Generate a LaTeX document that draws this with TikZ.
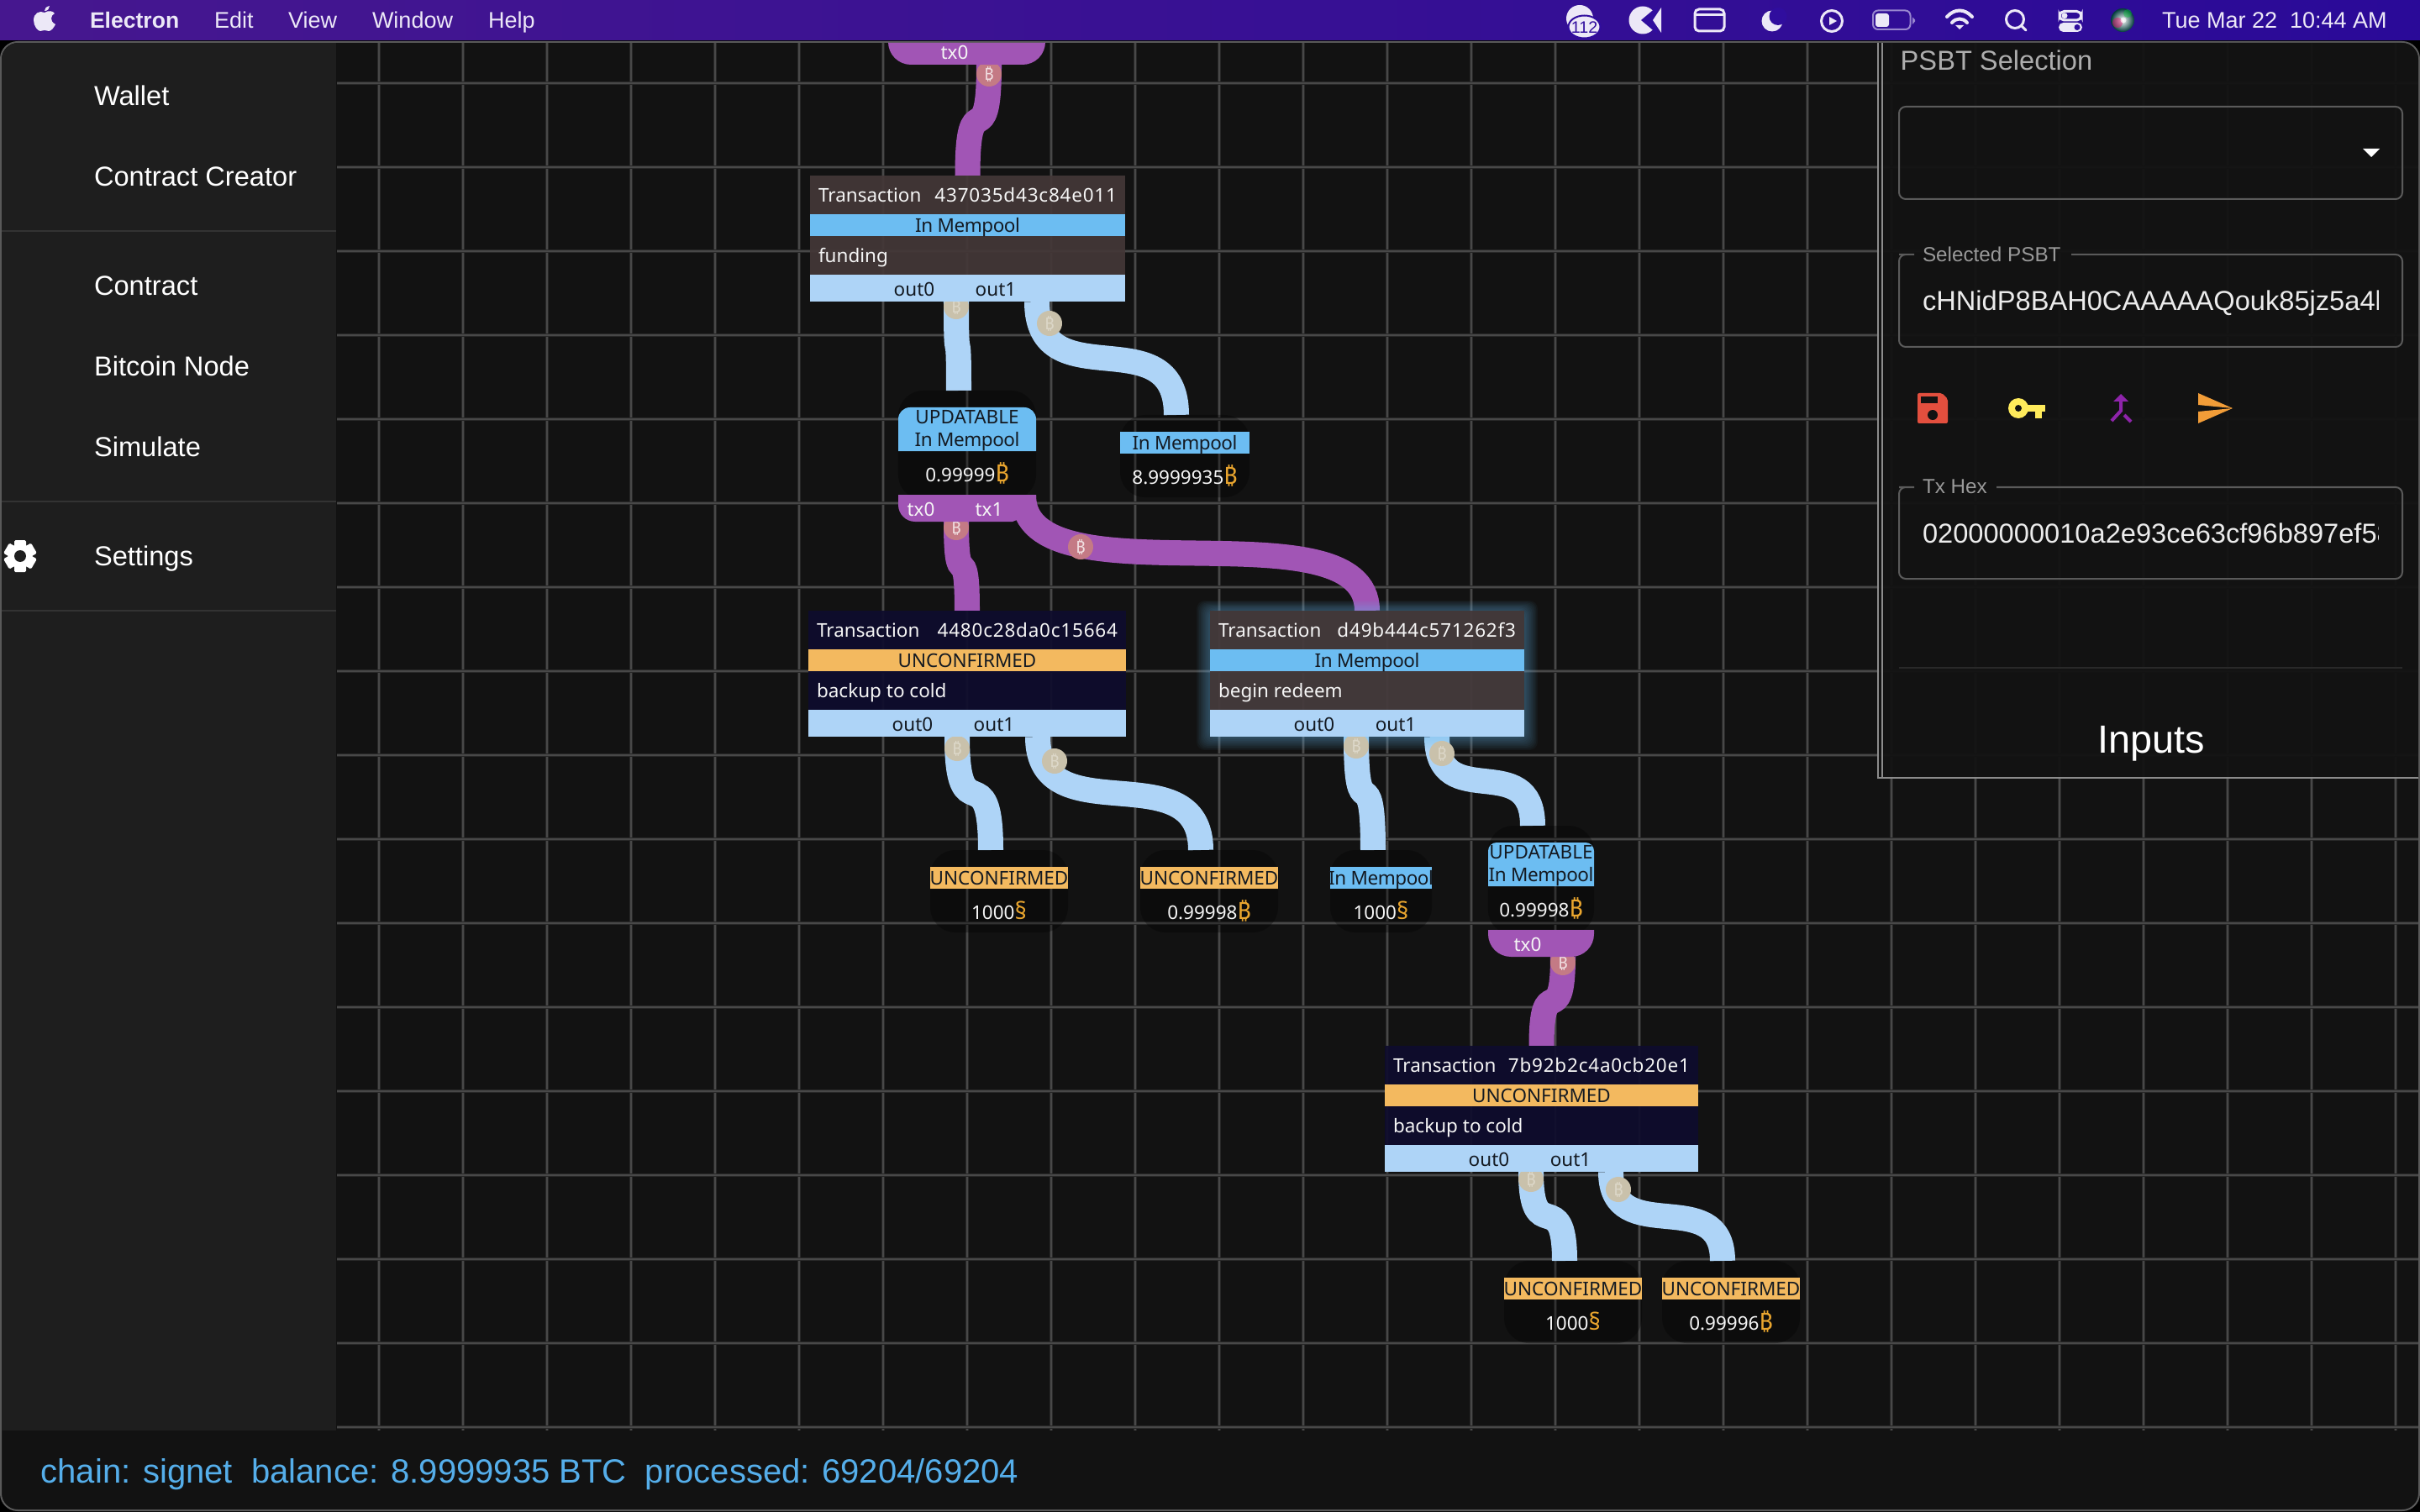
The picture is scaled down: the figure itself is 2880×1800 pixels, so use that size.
\documentclass[tikz,border=0pt]{standalone}
\usepackage{fontspec}
\usetikzlibrary{calc,shapes.geometric}
\setmainfont{Liberation Sans}
\newfontfamily\graphfont{Noto Sans}
\newfontfamily\btcfont{Noto Sans}
\definecolor{barL}{HTML}{46178F}\definecolor{barM}{HTML}{300D9E}\definecolor{barR}{HTML}{2A0A98}
\definecolor{canvas}{HTML}{121212}\definecolor{side}{HTML}{1E1E1E}
\definecolor{flowP}{HTML}{A155B5}\definecolor{flowB}{HTML}{AED4F7}
\definecolor{coinP}{HTML}{C47A85}\definecolor{coinB}{HTML}{C9C1AB}
\definecolor{mem}{HTML}{6CBDF2}\definecolor{unc}{HTML}{F3B95F}
\definecolor{rowM}{HTML}{433737}\definecolor{rowU}{HTML}{0E0C2D}
\definecolor{btc}{HTML}{E9A52E}\definecolor{ink}{HTML}{141A22}
\definecolor{menuw}{HTML}{ECE8F7}\definecolor{stat}{HTML}{55AEEA}
\definecolor{fieldl}{HTML}{5A5A5A}
\definecolor{gridA}{HTML}{282828}\definecolor{gridB}{HTML}{484848}
\pgfdeclarelayer{gridlayer}\pgfdeclarelayer{connlayer}
\pgfsetlayers{gridlayer,connlayer,main}
\newcommand\pw[1]{#1*0.28453pt}
\newcommand\btcsym{{\btcfont\fontsize{8}{8}\selectfont\color{btc}\symbol{"20BF}}}
\newcommand\satsym{{\btcfont\fontsize{8}{8}\selectfont\color{btc}§}}
\newcommand\gsz{\graphfont\fontsize{6.4}{7.65}\selectfont}
\newcommand\usz{\fontsize{9.28}{11}\selectfont}
\newcommand\wide[1]{{\addfontfeature{LetterSpace=3.5}#1}}
\newcommand\inmem{{\addfontfeature{LetterSpace=-2}In Mempool}}
\tikzset{
 x=0.01cm,y=-0.01cm,
 flowp/.style={draw=flowP,line width=\pw{30}},
 flowb/.style={draw=flowB,line width=\pw{30}},
 coinp/.style={circle,fill=coinP,inner sep=0,minimum size=0.3cm,text=white!75!coinP,font=\btcfont\fontsize{5.6}{6}\selectfont},
 coinb/.style={circle,fill=coinB,inner sep=0,minimum size=0.3cm,text=white!35!coinB,font=\btcfont\fontsize{5.6}{6}\selectfont},
 rowbox/.style={rectangle,inner sep=0,outer sep=0,anchor=north west},
 gtext/.style={inner sep=0,outer sep=0,text=white!96!black,font=\gsz,text height=1.5ex,text depth=.55ex},
 dtext/.style={gtext,text=ink},
 backdrop/.style={rectangle,rounded corners=0.3cm,fill=black,fill opacity=.3,inner sep=0,outer sep=0,anchor=north},
 utext/.style={inner sep=0,outer sep=0,text=white,font=\usz,anchor=west,text height=1.5ex,text depth=.15ex},
 menutext/.style={inner sep=0,outer sep=0,text=menuw,font=\fontsize{7.68}{9}\selectfont,anchor=west,text height=1.5ex,text depth=.4ex},
 legendtext/.style={inner sep=0,outer sep=0,text=white!60!black,font=\fontsize{6.9}{8}\selectfont,anchor=west,text height=1.5ex,text depth=.4ex},
 fieldbox/.style={draw=fieldl,line width=\pw{2},rounded corners=0.08cm},
 icon/.style={fill=menuw,draw=none},
 iconline/.style={draw=menuw,line width=\pw{3},fill=none},
}
% link drawn on the connector layer
\newcommand\flowlink[4][.88]{\begin{pgfonlayer}{connlayer}\draw[#2] (#3) .. controls ($(#3)!#1!(#3 |- #4)$) and ($(#4)!#1!(#4 |- #3)$) .. (#4);\end{pgfonlayer}}
% name,left,top,width,rowcolour,statuscolour,hash,status,comment
\newcommand\txbox[9]{%
 \node[rowbox,fill=#5,fill opacity=.93,minimum width=#4*0.01cm,minimum height=0.46cm] (#1head) at (#2,#3) {};
 \node[rowbox,fill=#6,minimum width=#4*0.01cm,minimum height=0.26cm] (#1stat) at ($(#1head.south west)$) {};
 \node[rowbox,fill=#5,fill opacity=.93,minimum width=#4*0.01cm,minimum height=0.46cm] (#1comm) at ($(#1stat.south west)$) {};
 \node[rowbox,fill=flowB,minimum width=#4*0.01cm,minimum height=0.32cm] (#1out) at ($(#1comm.south west)$) {};
 \node[gtext,anchor=west] (#1lab) at ($(#1head.west)+(10,0)$) {Transaction};
 \node[gtext,anchor=east] (#1hash) at ($(#1head.east)+(-10,0)$) {\wide{#7}};
 \node[dtext] (#1st) at (#1stat.center) {#8};
 \node[gtext,anchor=west] (#1cm) at ($(#1comm.west)+(10,0)$) {#9};
 \node[dtext] (#1o0) at ($(#1out.west)+(124,1)$) {out0};
 \node[dtext] (#1o1) at ($(#1out.west)+(221,1)$) {out1};
}
% name,cx,top,width,status,colour,amount
\newcommand\leafnode[7]{%
 \node[backdrop,minimum width=#4*0.01cm,minimum height=0.98cm] (#1) at (#2,#3) {};
 \node[rowbox,anchor=north,fill=#6,minimum width=#4*0.01cm,minimum height=0.26cm] (#1s) at ($(#1.north)+(0,20)$) {};
 \node[dtext] (#1st) at (#1s.center) {#5};
 \node[gtext] (#1amt) at ($(#1.north)+(0,74)$) {#7};
}
\begin{document}
\begin{tikzpicture}
\useasboundingbox (0,0) rectangle (2880,1800);
\begin{pgfonlayer}{gridlayer}
 \fill[black] (0,0) rectangle (2880,1800);
 \shade[left color=barL,middle color=barM,right color=barR] (0,0) rectangle (2880,48);
 \fill[canvas,draw=white!35!black,line width=\pw{2},rounded corners=0.2cm] (1,50) rectangle (2879,1798);
 \begin{scope}
  \clip[rounded corners=0.2cm] (2,51) rectangle (2878,1797);
  \fill[side] (2,51) rectangle (400,1703);
 \end{scope}
 \foreach \gx in {451,551,...,2851}{
  \draw[color=gridA,line width=\pw{4.5}] (\gx,51) -- (\gx,1703);
  \draw[color=gridB,line width=\pw{2}] (\gx,51) -- (\gx,1703);}
 \foreach \gy in {99,199,...,1699}{
  \draw[color=gridA,line width=\pw{4.5}] (401,\gy) -- (2878,\gy);
  \draw[color=gridB,line width=\pw{2}] (401,\gy) -- (2878,\gy);}
\end{pgfonlayer}

% ---------- menu bar
\fill[menuw] (53,15) .. controls (47,12) and (40,16) .. (40,24) .. controls (40,31) and (45,37) .. (48,37) .. controls (50,37) and (51,36) .. (53,36) .. controls (55,36) and (56,37) .. (58,37) .. controls (61,37) and (64,33) .. (66,29) .. controls (62,27) and (61,24) .. (61,22) .. controls (61,19) and (63,17) .. (65,16) .. controls (63,13) and (58,12) .. (53,15) -- cycle;
\fill[menuw] (53,13) .. controls (53,10) and (55,8) .. (59,7) .. controls (59,10) and (57,13) .. (53,13) -- cycle;
\node[menutext,font=\bfseries\fontsize{7.55}{9}\selectfont] (mElectron) at (107,23) {Electron};
\node[menutext] (mEdit) at (255,23) {Edit};
\node[menutext] (mView) at (343,23) {View};
\node[menutext] (mWindow) at (443,23) {Window};
\node[menutext] (mHelp) at (581,23) {Help};
% notification badge
\fill[icon] (1880,22) circle[radius=16];
\fill[icon,draw=barM,line width=\pw{2}] (1885.5,32) ellipse[x radius=19,y radius=13.5];
\node[inner sep=0,text=barM,font=\fontsize{5.6}{6}\selectfont] (mBadge) at (1885.5,32.5) {112};
% pacman icon
\fill[icon] (1955,24) circle[radius=16.5];
\fill[barM] (1953,24) -- (1972,8) -- (1972,40) -- cycle;
\fill[icon] (1967,24) -- (1977,9) -- (1977,39) -- cycle;
% window icon
\draw[iconline,rounded corners=0.05cm] (2017,11) rectangle (2052,37);
\draw[iconline] (2017,18) -- (2052,18);
% moon
\fill[icon] (2109,25) circle[radius=12.5];
\fill[barM] (2116,19.5) circle[radius=10.5];
% play
\draw[iconline] (2180,25) circle[radius=12.5];
\fill[icon] (2177,20) -- (2186,25) -- (2177,30) -- cycle;
% battery
\draw[draw=white!40!barM!80!menuw,line width=\pw{2},rounded corners=0.06cm] (2229,12.5) rectangle (2273.5,35);
\fill[icon,rounded corners=0.03cm] (2232,16) rectangle (2248,32);
\fill[white!40!barM!80!menuw] (2276,20.5) -- (2279,23.5) -- (2279,25.5) -- (2276,29) -- cycle;
% wifi
\draw[iconline,line width=\pw{4},line cap=round] (2317,20) .. controls (2326,10) and (2338,10) .. (2347,20);
\draw[iconline,line width=\pw{4},line cap=round] (2323,27) .. controls (2328,21) and (2336,21) .. (2341,27);
\fill[icon] (2327,30) -- (2337,30) -- (2332,35) -- cycle;
% search
\draw[iconline] (2398,23) circle[radius=10.5];
\draw[iconline,line cap=round] (2406,31) -- (2411,36);
% control centre
\draw[iconline,rounded corners=0.055cm] (2451,13.5) rectangle (2477,24);
\fill[icon] (2457,18.7) circle[radius=3.5];
\fill[icon,rounded corners=0.055cm] (2450,27) rectangle (2478,38);
\fill[barM] (2472,32.5) circle[radius=3.5];
% siri
\shade[inner color=white,outer color=black!55!teal] (2526,24) circle[radius=14];
\fill[magenta!70!red,fill opacity=.45] (2520,27) circle[radius=6];
\fill[green!60!teal,fill opacity=.4] (2532,16) circle[radius=5];
\fill[white,fill opacity=.6] (2527,24) circle[radius=3.5];
\node[menutext] (mDate) at (2573,23) {Tue Mar 22~~10:44 AM};

% ---------- sidebar
\draw[color=white!20!black,line width=\pw{2}] (2,275) -- (400,275);
\draw[color=white!20!black,line width=\pw{2}] (2,597) -- (400,597);
\draw[color=white!20!black,line width=\pw{2}] (2,727) -- (400,727);
\node[utext] (sWallet) at (112,113) {Wallet};
\node[utext] (sCreator) at (112,209) {Contract Creator};
\node[utext] (sContract) at (112,339) {Contract};
\node[utext] (sNode) at (112,435) {Bitcoin Node};
\node[utext] (sSim) at (112,531) {Simulate};
\node[utext] (sSettings) at (112,661) {Settings};
\foreach \ga in {0,60,120}{\fill[white,rotate around={\ga:(24,662)},rounded corners=0.015cm] (17,643) rectangle (31,681);}
\fill[white] (24,662) circle[radius=14.5];
\fill[side] (24,662) circle[radius=7];

% ---------- status bar
\node[inner sep=0,text=stat,anchor=west,font=\fontsize{11.38}{13}\selectfont,text height=1.5ex,text depth=.1ex] (statusline) at (48,1752) {chain: signet~~balance: 8.9999935 BTC~~processed: 69204/69204};

% ---------- top tab
\fill[flowP] (1057,51) [rounded corners=0.27cm] -- (1057,77) -- (1244,77) [sharp corners] -- (1244,51) -- cycle;
\node[gtext] (tab0) at (1136,62) {tx0};
\coordinate (tab0p) at (1177,77);

% ---------- transaction boxes
\txbox{ta}{964}{209}{375}{rowM}{mem}{437035d43c84e011}{\inmem}{funding}
\txbox{tb}{962}{727}{378}{rowU}{unc}{4480c28da0c15664}{UNCONFIRMED}{backup to cold}
\txbox{tc}{1440}{727}{374}{rowM}{mem}{d49b444c571262f3}{\inmem}{begin redeem}
\txbox{td}{1648}{1245}{373}{rowU}{unc}{7b92b2c4a0cb20e1}{UNCONFIRMED}{backup to cold}

% ---------- UPDATABLE node under funding
\node[backdrop,minimum width=1.64cm,minimum height=1.3cm] (u1) at (1151,465) {};
\fill[mem] (1069,537) [rounded corners=0.14cm] -- (1069,485) -- (1233,485) [sharp corners] -- (1233,537) -- cycle;
\node[dtext,align=center,text height=,text depth=] (u1st) at (1151,513) {UPDATABLE\\\inmem};
\node[gtext] (u1amt) at (1151,565) {0.99999\btcsym};
\fill[flowP] (1069,589) -- (1233,589) -- (1233,610) -- (1205,621) [rounded corners=0.2cm] -- (1069,621) [sharp corners] -- cycle;
\node[gtext] (u1t0) at (1096,606) {tx0};
\node[gtext] (u1t1) at (1177,606) {tx1};

\leafnode{la}{1410}{494}{154}{\inmem}{mem}{8.9999935\btcsym}
\leafnode{lb}{1189}{1012}{164}{UNCONFIRMED}{unc}{1000\satsym}
\leafnode{lc}{1439}{1012}{164}{UNCONFIRMED}{unc}{0.99998\btcsym}
\leafnode{ld}{1643.5}{1012}{121}{\inmem}{mem}{1000\satsym}

% ---------- UPDATABLE node under begin redeem
\node[backdrop,minimum width=1.26cm,minimum height=1.3cm] (u2) at (1834,983) {};
\fill[mem] (1771,1055) [rounded corners=0.1cm] -- (1771,1003) -- (1897,1003) [sharp corners] -- (1897,1055) -- cycle;
\node[dtext,align=center,text height=,text depth=] (u2st) at (1834,1031) {UPDATABLE\\\inmem};
\node[gtext] (u2amt) at (1834,1083) {0.99998\btcsym};
\fill[flowP] (1771,1107) [rounded corners=0.27cm] -- (1771,1139) -- (1897,1139) [sharp corners] -- (1897,1107) -- cycle;
\node[gtext] (u2t0) at (1818,1124) {tx0};
\coordinate (u2p) at (1860,1139);

\leafnode{le}{1872}{1501}{164}{UNCONFIRMED}{unc}{1000\satsym}
\leafnode{lf}{2060}{1501}{164}{UNCONFIRMED}{unc}{0.99996\btcsym}

% ---------- ports
\coordinate (tao0) at ($(taout.south west)+(174,0)$);
\coordinate (tao1) at ($(taout.south west)+(270,0)$);
\coordinate (tbo0) at ($(tbout.south west)+(177,0)$);
\coordinate (tbo1) at ($(tbout.south west)+(273,0)$);
\coordinate (tco0) at ($(tcout.south west)+(174,0)$);
\coordinate (tco1) at ($(tcout.south west)+(270,0)$);
\coordinate (tdo0) at ($(tdout.south west)+(174,0)$);
\coordinate (tdo1) at ($(tdout.south west)+(269,0)$);
\coordinate (u1in) at ($(u1.north)+(-10,0)$);
\coordinate (u1p0) at (1138,621);
\coordinate (u1p1) at (1218,590);
\coordinate (lain) at ($(la.north)+(-10,0)$);
\coordinate (lbin) at ($(lb.north)+(-10,0)$);
\coordinate (lcin) at ($(lc.north)+(-10,0)$);
\coordinate (ldin) at ($(ld.north)+(-9.5,0)$);
\coordinate (u2in) at ($(u2.north)+(-10,0)$);
\coordinate (lein) at ($(le.north)+(-10,0)$);
\coordinate (lfin) at ($(lf.north)+(-10,0)$);

% ---------- connectors
\flowlink{flowp}{tab0p}{tahead.north}
\flowlink{flowb}{tao0}{u1in}
\flowlink{flowb}{tao1}{lain}
\flowlink{flowp}{u1p0}{tbhead.north}
\flowlink[.96]{flowp}{u1p1}{tchead.north}
\flowlink{flowb}{tbo0}{lbin}
\flowlink{flowb}{tbo1}{lcin}
\flowlink{flowb}{tco0}{ldin}
\flowlink{flowb}{tco1}{u2in}
\flowlink{flowp}{u2p}{tdhead.north}
\flowlink{flowb}{tdo0}{lein}
\flowlink{flowb}{tdo1}{lfin}

% ---------- glow round the selected transaction, coins on the connectors
\begin{pgfonlayer}{connlayer}
 \foreach \gi in {1,...,10}{
  \fill[color=mem,fill opacity=.045,rounded corners=0.1cm] ({1440-1.6*\gi},{727-1.2*\gi}) rectangle ({1814+1.6*\gi},{877+1.6*\gi});}
 \node[coinp] (c1) at (1177,88) {\symbol{"20BF}};
 \node[coinb] (c2) at (1138,365) {\symbol{"20BF}};
 \node[coinb] (c3) at (1249,385) {\symbol{"20BF}};
 \node[coinp] (c4) at (1138,628) {\symbol{"20BF}};
 \node[coinp] (c5) at (1286,651) {\symbol{"20BF}};
 \node[coinb] (c6) at (1139,891) {\symbol{"20BF}};
 \node[coinb] (c7) at (1255,906) {\symbol{"20BF}};
 \node[coinb] (c8) at (1614,888) {\symbol{"20BF}};
 \node[coinb] (c9) at (1716,897) {\symbol{"20BF}};
 \node[coinp] (c10) at (1860,1146) {\symbol{"20BF}};
 \node[coinb] (c11) at (1822,1404) {\symbol{"20BF}};
 \node[coinb] (c12) at (1926,1416) {\symbol{"20BF}};
\end{pgfonlayer}

% ---------- right panel
\fill[canvas,fill opacity=.93] (2236,51) [rounded corners=0.2cm] -- (2878,51) [sharp corners] -- (2878,926) -- (2236,926) -- cycle;
\draw[color=white!55!black,line width=\pw{2}] (2235,51) -- (2235,926) -- (2878,926);
\draw[color=white!55!black,line width=\pw{2}] (2240,51) -- (2240,925);
\node[inner sep=0,text=white!68!black,anchor=west,font=\usz,text height=1.5ex,text depth=.15ex] (pTitle) at (2261,71) {PSBT Selection};
\draw[fieldbox] (2260,127) rectangle (2859,237);
\fill[white] (2812,177) -- (2832,177) -- (2822,187) -- cycle;
% Selected PSBT field
\draw[fieldbox] (2278,303) -- (2268,303) [rounded corners=0.08cm] -- (2260,303) -- (2260,413) -- (2859,413) -- (2859,303) [sharp corners] -- (2465,303);
\node[legendtext] (pSel) at (2288,301) {Selected PSBT};
\begin{scope}
 \clip (2285,330) rectangle (2830,385);
 \node[utext,text=white!92!black] (pSelV) at (2288,357) {cHNidP8BAH0CAAAAAQouk85jz5a4l};
\end{scope}
% Tx Hex field
\draw[fieldbox] (2278,580) -- (2268,580) [rounded corners=0.08cm] -- (2260,580) -- (2260,689) -- (2859,689) -- (2859,580) [sharp corners] -- (2376,580);
\node[legendtext] (pHex) at (2288,577) {Tx Hex};
\begin{scope}
 \clip (2285,607) rectangle (2830,662);
 \node[utext,text=white!92!black] (pHexV) at (2288,634) {02000000010a2e93ce63cf96b897ef58};
\end{scope}
\draw[color=white!16!black,line width=\pw{2}] (2260,795) -- (2859,795);
\node[inner sep=0,text=white,font=\fontsize{13.3}{15}\selectfont] (pInputs) at (2560,885) {Inputs};
% save icon
\fill[rounded corners=0.02cm,color={rgb,255:red,227;green,79;blue,62}] (2282,468) -- (2311,468) -- (2318,475) -- (2318,504) -- (2282,504) -- cycle;
\fill[canvas] (2286,472) rectangle (2306,480);
\fill[canvas] (2300,494) circle[radius=6];
% key icon
\fill[color={rgb,255:red,255;green,235;blue,91}] (2402,486) circle[radius=12];
\fill[color={rgb,255:red,255;green,235;blue,91}] (2402,482) rectangle (2434,490);
\fill[color={rgb,255:red,255;green,235;blue,91}] (2422,490) rectangle (2430,498);
\fill[canvas] (2402,486) circle[radius=4];
% merge icon
\fill[color={rgb,255:red,142;green,36;blue,170}] (2524,469) -- (2533,478) -- (2515,478) -- cycle;
\draw[color={rgb,255:red,142;green,36;blue,170},line width=\pw{4}] (2524,478) -- (2524,489) -- (2513,501);
\draw[color={rgb,255:red,142;green,36;blue,170},line width=\pw{4}] (2528,494) -- (2536,502);
% send icon
\fill[color={rgb,255:red,242;green,157;blue,56}] (2616,468) -- (2657,486) -- (2616,482) -- cycle;
\fill[color={rgb,255:red,242;green,157;blue,56}] (2616,504) -- (2657,486) -- (2616,490) -- cycle;
\end{tikzpicture}
\end{document}
